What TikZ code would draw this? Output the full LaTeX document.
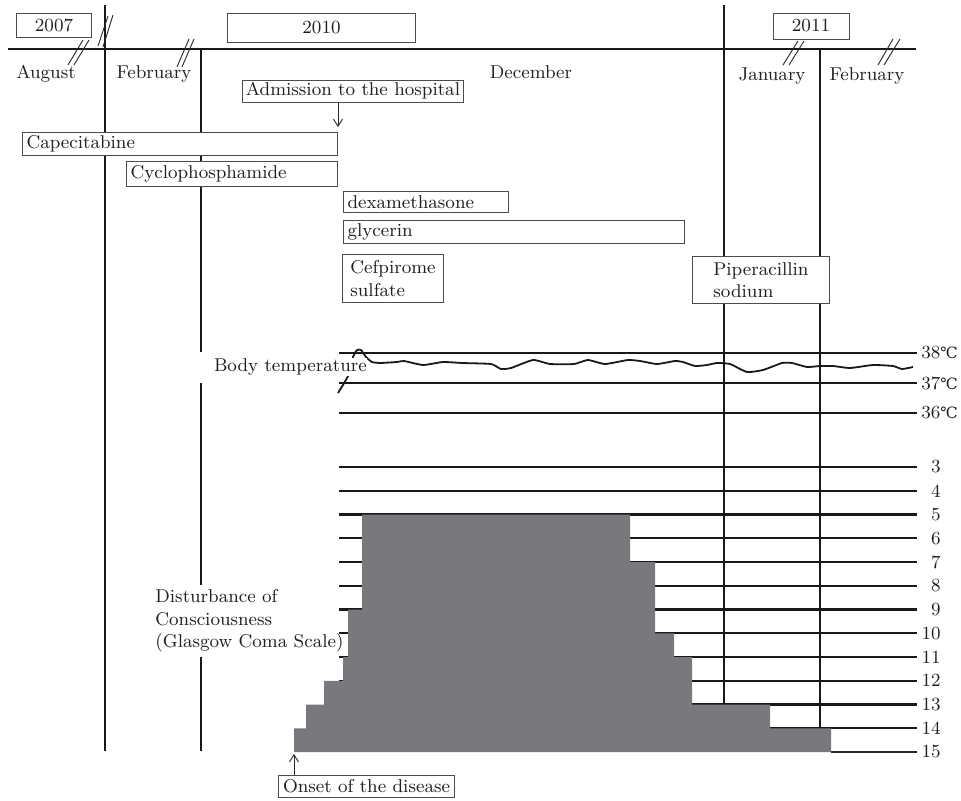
\documentclass[tikz,border=0pt]{standalone}
\usepackage{fontspec}
\newfontfamily\degfont{DejaVu Serif}
\usetikzlibrary{arrows.meta}
\newcommand\degC{{\degfont\fontsize{7.8}{8}\selectfont ℃}}
\begin{document}
\begin{tikzpicture}[x=0.5bp,y=-0.5bp,
  every node/.style={font=\fontsize{9.3}{11.2}\selectfont, text=black!88},
  ax/.style={line width=1.4bp, draw=black!90},
  vl/.style={line width=1bp, draw=black!90},
  hl/.style={line width=1.1bp, draw=black!90},
  thinl/.style={line width=0.6bp, draw=black!85},
  box/.style={draw=black!70, line width=0.5bp, fill=white, inner sep=1bp},
  drug/.style={draw=black!70, line width=0.5bp, fill=white, anchor=north west, inner xsep=2bp, inner ysep=0pt, align=left},
  brk/.style={line width=0.45bp, draw=black!85},
  arr/.style={-{Straight Barb[length=3.5bp,width=4.5bp]}, line width=0.45bp, draw=black!85},
  lab/.style={inner sep=0pt},
  curve/.style={line width=0.9bp, draw=black!90, line join=round},
  gcsfill/.style={fill={rgb,255:red,120;green,121;blue,125}},
]
\useasboundingbox (0,0) rectangle (961,801);

% time axis
\draw[ax] (8,49) -- (916,49);
% vertical month separators
\draw[vl] (105,5) -- (105,751);
\draw[vl] (201,49) -- (201,352) (201,383) -- (201,585) (201,657) -- (201,751);
\draw[vl] (724,5) -- (724,751);
\draw[vl] (820,49) -- (820,751);

% temperature lines
\foreach \y in {353,383,413} \draw[hl] (339,\y) -- (917,\y);
% GCS lines
\foreach \i in {3,...,14} \draw[hl] (339,{467+(\i-3)*23.75}) -- (917,{467+(\i-3)*23.75});
\draw[thinl] (831,752) -- (917,752);

% body temperature curve
\draw[curve] plot[smooth, tension=0.3] coordinates {
 (338,393) (348,376) (353,357) (357,350) (361,350) (366,357) (372,362) (380,363)
 (397,362) (404,361) (423,365) (443,362) (462,363) (491,364) (501,369) (511,368)
 (533,360) (550,364) (574,364) (588,360) (605,364) (628,360) (640,361) (657,364)
 (675,361) (683,362) (695,366) (707,365) (717,363) (730,364) (747,372) (763,370)
 (782,363) (792,363) (807,367) (820,366) (833,366) (850,368) (873,365) (893,366)
 (902,369) (913,367)};

% GCS bars
\fill[gcsfill] (362,514.5) -- (630,514.5) -- (630,562) -- (655,562) -- (655,633.25)
  -- (674,633.25) -- (674,657) -- (692,657) -- (692,704.5) -- (770,704.5)
  -- (770,728.25) -- (831,728.25) -- (831,752) -- (294,752) -- (294,728.25)
  -- (306,728.25) -- (306,704.5) -- (324,704.5) -- (324,680.75) -- (343,680.75)
  -- (343,657) -- (348,657) -- (348,609.5) -- (362,609.5) -- cycle;

% year boxes
\node[box, minimum width=37bp, minimum height=12bp] (y2007) at (54,25) {2007};
\node[box, minimum width=93.5bp, minimum height=14.5bp] (y2010) at (321.5,27.5) {2010};
\node[box, minimum width=38bp, minimum height=13bp] (y2011) at (811,26) {2011};

% break marks
\draw[brk] (68,65) -- (83,40) (74,65) -- (89,40);
\draw[brk] (98,46) -- (108,16) (103,47) -- (113,15);
\draw[brk] (177,67) -- (189,39) (182,67) -- (194,39);
\draw[brk] (783,65) -- (798,41) (789,65) -- (804,41);
\draw[brk] (878,65) -- (893,39) (884,65) -- (900,39);

% month labels
\node[lab, anchor=base] (aug) at (46,78) {August};
\node[lab, anchor=base] (feb1) at (154,78) {February};
\node[lab, anchor=base] (dec) at (531,78) {December};
\node[lab, anchor=base] (jan) at (772,80) {January};
\node[lab, anchor=base] (feb2) at (867,80) {February};

% admission
\node[box, minimum width=110bp, minimum height=11bp] (adm) at (353,91) {Admission to the hospital};
\coordinate (admtip) at (338,127);
\draw[arr] (adm.south -| admtip) -- (admtip);

% drugs
\node[drug, text width=153.5bp, minimum height=11.5bp] (cape) at (22,132) {Capecitabine};
\node[drug, text width=101.5bp, minimum height=12.5bp] (cyclo) at (126,161) {Cyclophosphamide};
\node[drug, text width=78.5bp, minimum height=10.5bp] (dexa) at (343,191) {dexamethasone};
\node[drug, text width=166.5bp, minimum height=11.5bp] (glyc) at (343,220) {glycerin};
\node[box, anchor=north west, align=left, inner sep=0pt, minimum width=50.5bp, minimum height=24bp] (cefp) at (342,254) {Cefpirome\\sulfate};
\node[box, anchor=north west, align=left, inner sep=0pt, minimum width=68.5bp, minimum height=23.5bp] (pipe) at (692,256) {Piperacillin\\sodium};

% labels of the charts
\node[lab, fill=white, inner sep=0.3bp, anchor=west] (bt) at (213,367) {Body temperature};
\node[lab, anchor=west, align=left] (dc) at (155,621) {Disturbance of\\Consciousness\\(Glasgow Coma Scale)};

% temperature scale
\node[lab, anchor=west] (t38) at (921,353) {38\degC};
\node[lab, anchor=west] (t37) at (921,383) {37\degC};
\node[lab, anchor=west] (t36) at (921,413) {36\degC};

% GCS scale
\foreach \i in {3,...,15} \node[lab, anchor=east] (g\i) at (941,{467+(\i-3)*23.75}) {\i};

% onset
\node[box, minimum width=87.5bp, minimum height=11bp] (onset) at (366.5,786) {Onset of the disease};
\coordinate (onsettip) at (294,754);
\draw[arr] (onset.north -| onsettip) -- (onsettip);
\end{tikzpicture}
\end{document}
